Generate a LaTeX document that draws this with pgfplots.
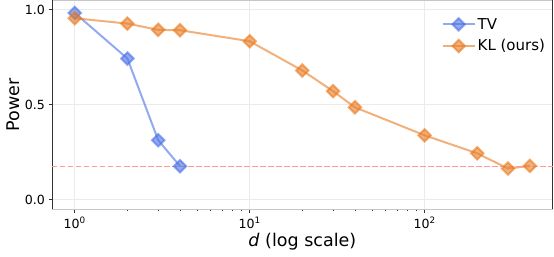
\documentclass[border=0pt]{standalone}
\usepackage{fontspec}
\setmainfont{DejaVu Sans}
\usepackage{pgfplots}
\pgfplotsset{compat=1.18}
\definecolor{tvblue}{HTML}{4B71E6}
\definecolor{klorange}{HTML}{E97B21}
\definecolor{gridgray}{HTML}{EBEBEB}
\definecolor{tickgray}{HTML}{333333}
\begin{document}
\begin{tikzpicture}[x=1pt,y=1pt]
\begin{axis}[
  scale only axis,
  width=500.7pt, height=209pt,
  xmode=log,
  xmin=0.741, xmax=540,
  ymin=-0.05, ymax=1.05,
  xtick={1,10,100},
  xticklabels={10\textsuperscript{0},10\textsuperscript{1},10\textsuperscript{2}},
  ytick={0,0.5,1.0},
  yticklabels={0.0,0.5,1.0},
  tick align=outside,
  tick pos=left,
  major tick length=3.5pt,
  minor tick length=2pt,
  every tick/.style={tickgray, line width=0.8pt},
  separate axis lines,
  x axis line style={gray!45, line width=0.8pt},
  y axis line style={tickgray, line width=0.8pt},
  grid=major,
  major grid style={gridgray, line width=0.8pt},
  ticklabel style={font=\fontsize{12.6}{15}\selectfont, text=black},
  xticklabel style={yshift=-1pt},
  xlabel={\textit{d} (log scale)},
  ylabel={Power},
  label style={font=\fontsize{17.5}{20}\selectfont},
  xlabel style={yshift=2pt},
  ylabel style={yshift=-2pt},
  legend style={at={(rel axis cs:0.995,0.94)}, anchor=north east, draw=none, fill=white, font=\fontsize{15}{18}\selectfont, row sep=5pt, inner sep=3pt},
  legend cell align=left,
  legend image code/.code={\draw[mark repeat=2,mark phase=2,#1] plot coordinates {(0pt,0pt) (16pt,0pt) (32pt,0pt)};},
  clip=false,
]
\addplot[tvblue, draw opacity=0.6, line width=2pt, mark=square*, mark size=4.4pt,
  mark options={rotate=45, solid, fill=tvblue, draw=tvblue, fill opacity=0.6, draw opacity=0.6}]
  coordinates {(1,0.984) (2,0.744) (3,0.314) (4,0.177)};
\addlegendentry{TV}
\addplot[klorange, draw opacity=0.6, line width=2pt, mark=square*, mark size=4.4pt,
  mark options={rotate=45, solid, fill=klorange, draw=klorange, fill opacity=0.6, draw opacity=0.6}]
  coordinates {(1,0.956) (2,0.928) (3,0.895) (4,0.893) (10,0.835) (20,0.681) (30,0.572) (40,0.487) (100,0.340) (200,0.245) (300,0.165) (400,0.179)};
\addlegendentry{KL (ours)}
\addplot[red!40, line width=1.5pt, dash pattern=on 5.5pt off 2.5pt, forget plot]
  coordinates {(0.741,0.177) (540,0.177)};
\end{axis}
\path[use as bounding box] ([shift={(-52pt,-47pt)}]current axis.south west) rectangle ([shift={(1.3pt,0pt)}]current axis.north east);
\end{tikzpicture}
\end{document}
